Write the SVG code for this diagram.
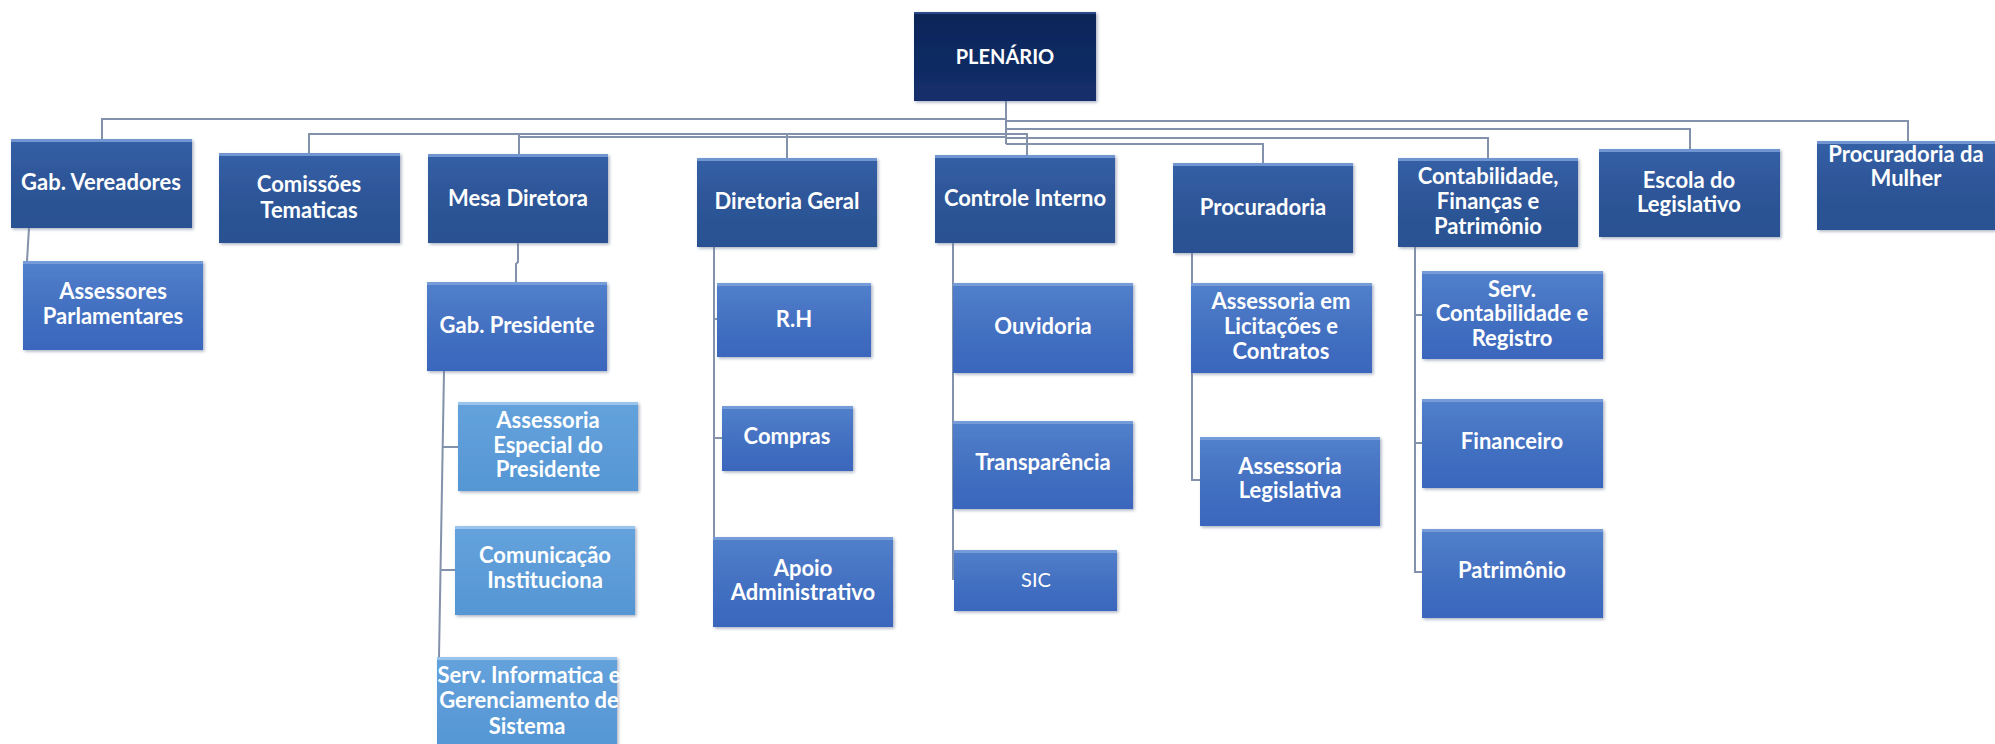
<svg xmlns="http://www.w3.org/2000/svg" width="1995" height="744" viewBox="0 0 1995 744">
<defs>
<linearGradient id="gTop" x1="0" y1="0" x2="0" y2="1"><stop offset="0" stop-color="#0d2558"/><stop offset="1" stop-color="#132f6c"/></linearGradient>
<linearGradient id="gL1" x1="0" y1="0" x2="0" y2="1"><stop offset="0" stop-color="#3560a6"/><stop offset="0.5" stop-color="#2d5597"/><stop offset="1" stop-color="#2a5192"/></linearGradient>
<linearGradient id="gL2" x1="0" y1="0" x2="0" y2="1"><stop offset="0" stop-color="#5280cb"/><stop offset="0.5" stop-color="#4471c2"/><stop offset="1" stop-color="#3a66bd"/></linearGradient>
<linearGradient id="gL3" x1="0" y1="0" x2="0" y2="1"><stop offset="0" stop-color="#64a2dc"/><stop offset="1" stop-color="#5596d4"/></linearGradient>
<filter id="sh" x="-5%" y="-5%" width="112%" height="120%"><feDropShadow dx="1.5" dy="1.5" stdDeviation="1.5" flood-color="#6f7f9a" flood-opacity="0.6"/></filter>
</defs>
<style>
.top{fill:url(#gTop);filter:url(#sh)}
.l1{fill:url(#gL1);filter:url(#sh)}
.l2{fill:url(#gL2);filter:url(#sh)}
.l3{fill:url(#gL3);filter:url(#sh)}
.hl{fill:#7fa3dc;opacity:0.8}
.hl3{fill:#a9cdf0;opacity:0.8}
text{font-family:Lato,"Liberation Sans",sans-serif;font-weight:bold;font-size:22px;fill:#ffffff;text-anchor:middle}
.reg{font-weight:normal}
.small{font-size:20px}
.c{fill:none;stroke:#8391ab;stroke-width:2}
</style>
<rect width="1995" height="744" fill="#ffffff"/>
<g id="connectors">
<path class="c" d="M1006 101V144"/>
<path class="c" d="M1006 119H102V139"/>
<path class="c" d="M1006 121H1908V141"/>
<path class="c" d="M1006 129H1690V149"/>
<path class="c" d="M1006 138H1488V158"/>
<path class="c" d="M1006 144H1263V163"/>
<path class="c" d="M1027 155V134H309V153"/>
<path class="c" d="M519 134V154"/>
<path class="c" d="M787 134V158"/>
<path class="c" d="M1006 137H519"/>
<path class="c" d="M29 228L27 261"/>
<path class="c" d="M518 243V262L516 264V282"/>
<path class="c" d="M444 371L439 657"/>
<path class="c" d="M443 447H458"/>
<path class="c" d="M441 570H455"/>
<path class="c" d="M714 247V537"/>
<path class="c" d="M714 319H717"/>
<path class="c" d="M714 438H722"/>
<path class="c" d="M953 243V580"/>
<path class="c" d="M1192 253V480H1200"/>
<path class="c" d="M1415 247V572H1422"/>
<path class="c" d="M1415 315H1422"/>
<path class="c" d="M1415 443H1422"/>
</g>
<g id="plenario"><rect class="top" x="914" y="12" width="182" height="89"/><rect x="914" y="12" width="182" height="2" fill="#2a4a8a"/><text x="1005" y="64" class="small">PLENÁRIO</text></g>
<g id="gab-vereadores"><rect class="l1" x="11" y="139" width="181" height="89"/><rect class="hl" x="11" y="139" width="181" height="3"/><text x="101" y="190">Gab. Vereadores</text></g>
<g id="comissoes"><rect class="l1" x="219" y="153" width="181" height="90"/><rect class="hl" x="219" y="153" width="181" height="3"/><text x="309" y="192">Comissões</text><text x="309" y="218">Tematicas</text></g>
<g id="mesa-diretora"><rect class="l1" x="428" y="154" width="180" height="89"/><rect class="hl" x="428" y="154" width="180" height="3"/><text x="518" y="206">Mesa Diretora</text></g>
<g id="diretoria-geral"><rect class="l1" x="697" y="158" width="180" height="89"/><rect class="hl" x="697" y="158" width="180" height="3"/><text x="787" y="209">Diretoria Geral</text></g>
<g id="controle-interno"><rect class="l1" x="935" y="155" width="180" height="88"/><rect class="hl" x="935" y="155" width="180" height="3"/><text x="1025" y="206">Controle Interno</text></g>
<g id="procuradoria"><rect class="l1" x="1173" y="163" width="180" height="90"/><rect class="hl" x="1173" y="163" width="180" height="3"/><text x="1263" y="215">Procuradoria</text></g>
<g id="contabilidade"><rect class="l1" x="1398" y="158" width="180" height="89"/><rect class="hl" x="1398" y="158" width="180" height="3"/><text x="1488" y="184">Contabilidade,</text><text x="1488" y="209">Finanças e</text><text x="1488" y="234">Patrimônio</text></g>
<g id="escola"><rect class="l1" x="1599" y="149" width="181" height="88"/><rect class="hl" x="1599" y="149" width="181" height="3"/><text x="1689" y="188">Escola do</text><text x="1689" y="212">Legislativo</text></g>
<g id="procuradoria-mulher"><rect class="l1" x="1817" y="141" width="180" height="89"/><rect class="hl" x="1817" y="141" width="180" height="3"/><text x="1906" y="162">Procuradoria da</text><text x="1906" y="186">Mulher</text></g>
<g id="assessores"><rect class="l2" x="23" y="261" width="180" height="89"/><rect class="hl" x="23" y="261" width="180" height="3"/><text x="113" y="299">Assessores</text><text x="113" y="324">Parlamentares</text></g>
<g id="gab-presidente"><rect class="l2" x="427" y="282" width="180" height="89"/><rect class="hl" x="427" y="282" width="180" height="3"/><text x="517" y="333">Gab. Presidente</text></g>
<g id="assessoria-especial"><rect class="l3" x="458" y="402" width="180" height="89"/><rect class="hl3" x="458" y="402" width="180" height="3"/><text x="548" y="428">Assessoria</text><text x="548" y="453">Especial do</text><text x="548" y="477">Presidente</text></g>
<g id="comunicacao"><rect class="l3" x="455" y="526" width="180" height="89"/><rect class="hl3" x="455" y="526" width="180" height="3"/><text x="545" y="563">Comunicação</text><text x="545" y="588">Instituciona</text></g>
<g id="serv-informatica"><rect class="l3" x="437" y="657" width="180" height="90"/><rect class="hl3" x="437" y="657" width="180" height="3"/><text x="529" y="683">Serv. Informatica e</text><text x="529" y="708">Gerenciamento de</text><text x="527" y="734">Sistema</text></g>
<g id="rh"><rect class="l2" x="717" y="283" width="154" height="74"/><rect class="hl" x="717" y="283" width="154" height="3"/><text x="794" y="327">R.H</text></g>
<g id="compras"><rect class="l2" x="722" y="406" width="131" height="65"/><rect class="hl" x="722" y="406" width="131" height="3"/><text x="787" y="444">Compras</text></g>
<g id="apoio"><rect class="l2" x="713" y="537" width="180" height="90"/><rect class="hl" x="713" y="537" width="180" height="3"/><text x="803" y="576">Apoio</text><text x="803" y="600">Administrativo</text></g>
<g id="ouvidoria"><rect class="l2" x="953" y="283" width="180" height="90"/><rect class="hl" x="953" y="283" width="180" height="3"/><text x="1043" y="334">Ouvidoria</text></g>
<g id="transparencia"><rect class="l2" x="953" y="421" width="180" height="88"/><rect class="hl" x="953" y="421" width="180" height="3"/><text x="1043" y="470">Transparência</text></g>
<g id="sic"><rect class="l2" x="954" y="550" width="163" height="61"/><rect class="hl" x="954" y="550" width="163" height="3"/><text x="1036" y="587" class="reg small">SIC</text></g>
<g id="assessoria-licitacoes"><rect class="l2" x="1191" y="283" width="181" height="90"/><rect class="hl" x="1191" y="283" width="181" height="3"/><text x="1281" y="309">Assessoria em</text><text x="1281" y="334">Licitações e</text><text x="1281" y="359">Contratos</text></g>
<g id="assessoria-legislativa"><rect class="l2" x="1200" y="437" width="180" height="89"/><rect class="hl" x="1200" y="437" width="180" height="3"/><text x="1290" y="474">Assessoria</text><text x="1290" y="498">Legislativa</text></g>
<g id="serv-contabilidade"><rect class="l2" x="1422" y="271" width="181" height="88"/><rect class="hl" x="1422" y="271" width="181" height="3"/><text x="1512" y="297">Serv.</text><text x="1512" y="321">Contabilidade e</text><text x="1512" y="346">Registro</text></g>
<g id="financeiro"><rect class="l2" x="1422" y="399" width="181" height="89"/><rect class="hl" x="1422" y="399" width="181" height="3"/><text x="1512" y="449">Financeiro</text></g>
<g id="patrimonio"><rect class="l2" x="1422" y="529" width="181" height="89"/><rect class="hl" x="1422" y="529" width="181" height="3"/><text x="1512" y="578">Patrimônio</text></g>
</svg>
